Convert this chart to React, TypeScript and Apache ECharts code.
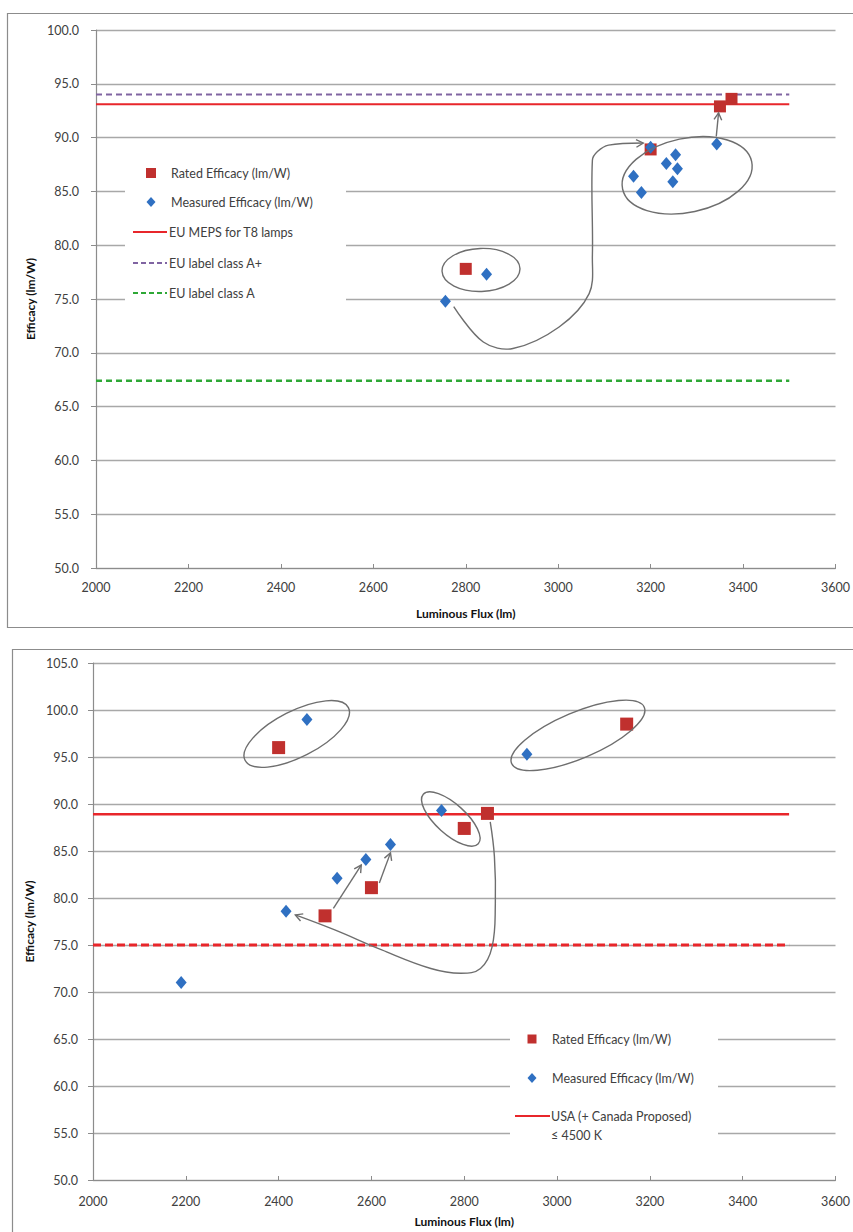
import React, { useEffect, useRef } from "react";
import * as echarts from "echarts";

// ---------- data ----------
const xMin = 2000;
const xMax = 3600;
const xStep = 200;
const topYMin = 50;
const topYMax = 100;
const bottomYMin = 50;
const bottomYMax = 105;
const yStep = 5;

const topRated = [
  [2800, 77.8],
  [3200, 88.9],
  [3350, 92.9],
  [3375, 93.6],
];
const topMeasured = [
  [2756, 74.8],
  [2845, 77.3],
  [3163, 86.4],
  [3180, 84.9],
  [3200, 89.1],
  [3234, 87.6],
  [3254, 88.4],
  [3258, 87.1],
  [3248, 85.9],
  [3343, 89.4],
];
const topMeps = [
  [2000, 93.1],
  [3500, 93.1],
];
const topClassAPlus = [
  [2000, 94.0],
  [3500, 94.0],
];
const topClassA = [
  [2000, 67.4],
  [3500, 67.4],
];

const bottomRated = [
  [2400, 96.0],
  [2500, 78.1],
  [2600, 81.1],
  [2800, 87.4],
  [2850, 89.0],
  [3150, 98.5],
];
const bottomMeasured = [
  [2190, 71.0],
  [2416, 78.6],
  [2461, 99.0],
  [2526, 82.1],
  [2588, 84.1],
  [2641, 85.7],
  [2751, 89.3],
  [2935, 95.3],
];
const bottomUsa = [
  [2000, 88.9],
  [3500, 88.9],
];
const bottomUsaLow = [
  [2000, 75.0],
  [3500, 75.0],
];

// hand-drawn annotations (data coordinates)
const topEllipseCenters = [
  [2833, 77.7],
  [3279, 86.5],
];
const topArrowLong = [
  [2774, 74.3],
  [2838, 71.0],
  [2902, 70.4],
  [3002, 72.4],
  [3067, 75.5],
  [3074, 79.0],
  [3074, 87.9],
  [3085, 88.7],
  [3109, 89.3],
  [3184, 89.5],
];
const topArrowShort = [
  [3342, 90.1],
  [3347, 92.3],
];
const bottomEllipseCenters = [
  [2439, 97.45],
  [3045, 97.3],
  [2771, 88.4],
];
const bottomArrowLong = [
  [2856, 88.1],
  [2865, 84.4],
  [2867, 79.4],
  [2860, 74.8],
  [2835, 72.5],
  [2792, 72.0],
  [2728, 72.5],
  [2621, 74.5],
  [2521, 76.6],
  [2436, 78.2],
];
const bottomArrowA = [
  [2518, 78.9],
  [2578, 83.5],
];
const bottomArrowB = [
  [2617, 81.6],
  [2641, 84.8],
];

const ratedName = "Rated Efficacy (lm/W)";
const measuredName = "Measured Efficacy (lm/W)";
const topLegendTexts = [ratedName, measuredName, "EU MEPS for T8 lamps", "EU label class A+", "EU label class A"];
const bottomLegendTexts = [ratedName, measuredName, "USA (+ Canada Proposed)", "≤ 4500 K"];

// ---------- styles ----------
const FONT = "Lato, 'Open Sans', sans-serif";
const RED_SQ = "#c0302e";
const BLUE = "#2f70c2";
const RED_LINE = "#e8262b";
const PURPLE = "#8064a2";
const GREEN = "#2ea836";
const GRID = "#a8a8a8";
const AXIS = "#8c8c8c";
const ANN = "#6e6e6e";
const TXT = "#404040";

function xAxisCfg(gridIndex: number, labelMargin: number, nameGap: number) {
  return {
    type: "value",
    gridIndex,
    min: xMin,
    max: xMax,
    interval: xStep,
    name: "Luminous Flux (lm)",
    nameLocation: "middle",
    nameGap,
    nameTextStyle: { fontFamily: FONT, fontSize: 12, fontWeight: "bold", color: "#111" },
    axisLine: { show: true, lineStyle: { color: AXIS, width: 1.2 } },
    axisTick: { show: true, inside: true, length: 4, lineStyle: { color: AXIS } },
    axisLabel: {
      fontFamily: FONT,
      fontSize: 12.5,
      color: TXT,
      margin: labelMargin,
      showMaxLabel: true,
      formatter: (v: number) => String(v),
    },
    splitLine: { show: false },
  };
}

function yAxisCfg(gridIndex: number, min: number, max: number, nameGap: number, labelMargin: number) {
  return {
    type: "value",
    gridIndex,
    min,
    max,
    interval: yStep,
    name: "Efficacy (lm/W)",
    nameLocation: "middle",
    nameGap,
    nameTextStyle: { fontFamily: FONT, fontSize: 12, fontWeight: "bold", color: "#111" },
    axisLine: { show: true, lineStyle: { color: AXIS, width: 1.2 } },
    axisTick: { show: true, inside: false, length: 5, lineStyle: { color: AXIS } },
    axisLabel: {
      fontFamily: FONT,
      fontSize: 12.5,
      color: TXT,
      margin: labelMargin,
      formatter: (v: number) => v.toFixed(1),
    },
    splitLine: { show: true, lineStyle: { color: GRID, width: 1.3 } },
  };
}

function lineSeries(name: string, data: number[][], idx: number, color: string, width: number, type: any) {
  return {
    name,
    type: "line",
    xAxisIndex: idx,
    yAxisIndex: idx,
    data,
    symbol: "none",
    lineStyle: { color, width, type },
    z: 3,
  };
}

function scatterSeries(name: string, data: number[][], idx: number, symbol: string, size: any, color: string, z: number) {
  return {
    name,
    type: "scatter",
    xAxisIndex: idx,
    yAxisIndex: idx,
    data,
    symbol,
    symbolSize: size,
    itemStyle: { color, opacity: 1 },
    z,
  };
}

function baseOption() {
  return {
    animation: false,
    backgroundColor: "#ffffff",
    grid: [
      { left: 96, top: 30, width: 746, height: 538, containLabel: false },
      { left: 93, top: 663, width: 748, height: 517, containLabel: false },
    ],
    xAxis: [xAxisCfg(0, 13, 39), xAxisCfg(1, 15, 35)],
    yAxis: [yAxisCfg(0, topYMin, topYMax, 60, 17), yAxisCfg(1, bottomYMin, bottomYMax, 57, 15)],
    series: [
      lineSeries("EU label class A+", topClassAPlus, 0, PURPLE, 2, [6, 4]),
      lineSeries("EU MEPS for T8 lamps", topMeps, 0, RED_LINE, 2, "solid"),
      lineSeries("EU label class A", topClassA, 0, GREEN, 2.5, [6, 4]),
      scatterSeries(ratedName, topRated, 0, "rect", 12, RED_SQ, 4),
      scatterSeries(measuredName, topMeasured, 0, "diamond", [11, 13], BLUE, 5),
      lineSeries("USA (+ Canada Proposed) ≤ 4500 K", bottomUsa, 1, RED_LINE, 2.5, "solid"),
      lineSeries("USA lower", bottomUsaLow, 1, RED_LINE, 3, [8, 4]),
      scatterSeries(ratedName, bottomRated, 1, "rect", 13, RED_SQ, 4),
      scatterSeries(measuredName, bottomMeasured, 1, "diamond", [11, 13], BLUE, 5),
    ],
  };
}

function arrowHead(p: number[], q: number[], len = 8, ang = 0.5) {
  const a = Math.atan2(q[1] - p[1], q[0] - p[0]);
  return [
    [q[0] - len * Math.cos(a - ang), q[1] - len * Math.sin(a - ang)],
    [q[0], q[1]],
    [q[0] - len * Math.cos(a + ang), q[1] - len * Math.sin(a + ang)],
  ];
}

function buildGraphic(chart: any) {
  const toPx = (g: number, p: number[]) => chart.convertToPixel({ gridIndex: g }, p) as number[];
  const els: any[] = [];
  const annStyle = { fill: "none", stroke: ANN, lineWidth: 1.4 };

  // frames
  els.push({ type: "rect", silent: true, z: 0, shape: { x: 7.5, y: 13.5, width: 900, height: 614 }, style: { fill: "none", stroke: AXIS, lineWidth: 1.2 } });
  els.push({ type: "rect", silent: true, z: 0, shape: { x: 12.5, y: 649.5, width: 900, height: 700 }, style: { fill: "none", stroke: AXIS, lineWidth: 1.2 } });

  const ellipse = (g: number, c: number[], rx: number, ry: number, rotDeg: number) => {
    const [cx, cy] = toPx(g, c);
    els.push({ type: "ellipse", silent: true, z: 6, x: cx, y: cy, rotation: (rotDeg * Math.PI) / 180, shape: { cx: 0, cy: 0, rx, ry }, style: annStyle });
  };
  const arrow = (g: number, pts: number[][], smooth: number) => {
    const px = pts.map((p) => toPx(g, p));
    els.push({ type: "polyline", silent: true, z: 6, shape: { points: px, smooth }, style: annStyle });
    els.push({ type: "polyline", silent: true, z: 6, shape: { points: arrowHead(px[px.length - 2], px[px.length - 1]) }, style: annStyle });
  };

  ellipse(0, topEllipseCenters[0], 39, 21.5, 2);
  ellipse(0, topEllipseCenters[1], 66, 37, 12);
  arrow(0, topArrowLong, 0.35);
  arrow(0, topArrowShort, 0);

  ellipse(1, bottomEllipseCenters[0], 58, 23, 27);
  ellipse(1, bottomEllipseCenters[1], 72, 23, 23);
  ellipse(1, bottomEllipseCenters[2], 37, 15, -42);
  arrow(1, bottomArrowLong, 0.4);
  arrow(1, bottomArrowA, 0);
  arrow(1, bottomArrowB, 0);

  const text = (x: number, y: number, t: string) =>
    els.push({ type: "text", z: 11, x, y, style: { text: t, fill: TXT, fontFamily: FONT, fontSize: 12.5, verticalAlign: "middle", align: "left" } });
  const square = (cx: number, cy: number, s: number) =>
    els.push({ type: "rect", z: 11, shape: { x: cx - s / 2, y: cy - s / 2, width: s, height: s }, style: { fill: RED_SQ } });
  const diamond = (cx: number, cy: number) =>
    els.push({ type: "polygon", z: 11, shape: { points: [[cx, cy - 5], [cx + 4.5, cy], [cx, cy + 5], [cx - 4.5, cy]] }, style: { fill: BLUE } });
  const seg = (x1: number, x2: number, y: number, color: string, w: number, dash?: number[]) =>
    els.push({ type: "line", z: 11, shape: { x1, y1: y, x2, y2: y }, style: { stroke: color, lineWidth: w, lineDash: dash } });

  // top legend
  els.push({ type: "rect", z: 2, silent: true, shape: { x: 125, y: 160, width: 221, height: 146 }, style: { fill: "#ffffff" } });
  square(151, 173, 10);
  text(171, 173, topLegendTexts[0]);
  diamond(151, 202);
  text(171, 202, topLegendTexts[1]);
  seg(133, 167, 232, RED_LINE, 2);
  text(169, 232, topLegendTexts[2]);
  seg(133, 167, 263, PURPLE, 2, [5, 3]);
  text(169, 263, topLegendTexts[3]);
  seg(133, 167, 293, GREEN, 2, [5, 3]);
  text(169, 293, topLegendTexts[4]);

  // bottom legend
  els.push({ type: "rect", z: 2, silent: true, shape: { x: 510, y: 1020, width: 208, height: 128 }, style: { fill: "#ffffff" } });
  square(532, 1039, 9);
  text(552, 1039, bottomLegendTexts[0]);
  diamond(532, 1078);
  text(552, 1078, bottomLegendTexts[1]);
  seg(515, 550, 1116, RED_LINE, 2);
  text(551, 1116, bottomLegendTexts[2]);
  text(551, 1135, bottomLegendTexts[3]);

  return els;
}

export default function App() {
  const ref = useRef<HTMLDivElement>(null);
  useEffect(() => {
    const chart = echarts.init(ref.current!, null, { renderer: "svg" });
    chart.setOption(baseOption() as any);
    chart.setOption({ graphic: buildGraphic(chart) } as any);
    return () => chart.dispose();
  }, []);
  return (
    <div
      ref={ref}
      style={{ position: "absolute", left: 0, top: 0, width: 853, height: 1232, background: "#ffffff" }}
    />
  );
}
